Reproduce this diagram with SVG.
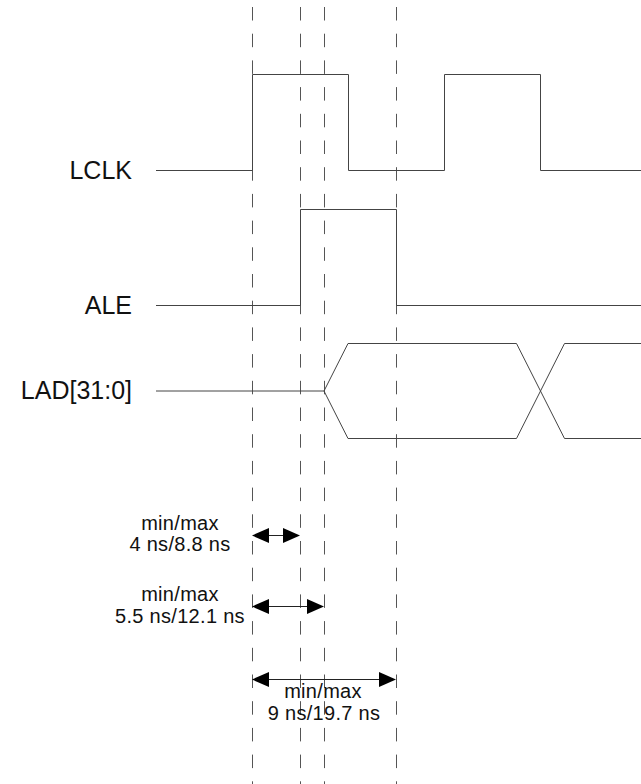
<svg xmlns="http://www.w3.org/2000/svg" width="641" height="784" viewBox="0 0 641 784">
<style>
.bg{fill:#fff}
.wave{fill:none;stroke:#444;stroke-width:1}
.guide{stroke:#555;stroke-width:1;stroke-dasharray:13.5 13.2}
.sig{font-family:"Liberation Sans",Arial,sans-serif;font-size:25px;fill:#111;text-anchor:end}
.meas{font-family:"Liberation Sans",Arial,sans-serif;font-size:20px;fill:#111;text-anchor:middle;letter-spacing:0.3px}
.dim{stroke:#222;stroke-width:1;fill:none}
.head{fill:#000}
</style>
<rect class="bg" x="0" y="0" width="641" height="784"/>
<g id="guides">
<line class="guide" x1="252.5" y1="7" x2="252.5" y2="784"/>
<line class="guide" x1="300.5" y1="7" x2="300.5" y2="784"/>
<line class="guide" x1="324.5" y1="7" x2="324.5" y2="784"/>
<line class="guide" x1="396.5" y1="7" x2="396.5" y2="784"/>
</g>
<g id="LCLK">
<text class="sig" x="132" y="179">LCLK</text>
<polyline class="wave" points="156,170.5 252.5,170.5 252.5,74.5 348.5,74.5 348.5,170.5 444.5,170.5 444.5,74.5 540.5,74.5 540.5,170.5 641,170.5"/>
</g>
<g id="ALE">
<text class="sig" x="132" y="314">ALE</text>
<polyline class="wave" points="156,305.5 300.5,305.5 300.5,209.5 396.5,209.5 396.5,305.5 641,305.5"/>
</g>
<g id="LAD">
<text class="sig" x="132" y="399">LAD[31:0]</text>
<polyline class="wave" points="156,391 324,391 348,343.5 516.5,343.5 564.5,438.5 641,438.5"/>
<polyline class="wave" points="324,391 348,438.5 516.5,438.5 564.5,343.5 641,343.5"/>
</g>
<g id="connectors">
<g id="m1">
<line class="dim" x1="265" y1="535.5" x2="287" y2="535.5"/>
<polygon class="head" points="252,535.5 269,528 269,543"/>
<polygon class="head" points="300,535.5 283,528 283,543"/>
<text class="meas" x="180" y="530">min/max</text>
<text class="meas" x="180" y="551">4 ns/8.8 ns</text>
</g>
<g id="m2">
<line class="dim" x1="265" y1="606.5" x2="311" y2="606.5"/>
<polygon class="head" points="252,606.5 269,599 269,614"/>
<polygon class="head" points="324,606.5 307,599 307,614"/>
<text class="meas" x="180" y="601">min/max</text>
<text class="meas" x="180" y="623">5.5 ns/12.1 ns</text>
</g>
<g id="m3">
<line class="dim" x1="265" y1="679.5" x2="383" y2="679.5"/>
<polygon class="head" points="252,679.5 269,672 269,687"/>
<polygon class="head" points="396,679.5 379,672 379,687"/>
<text class="meas" x="323" y="698">min/max</text>
<text class="meas" x="324" y="720">9 ns/19.7 ns</text>
</g>
</g>
</svg>
